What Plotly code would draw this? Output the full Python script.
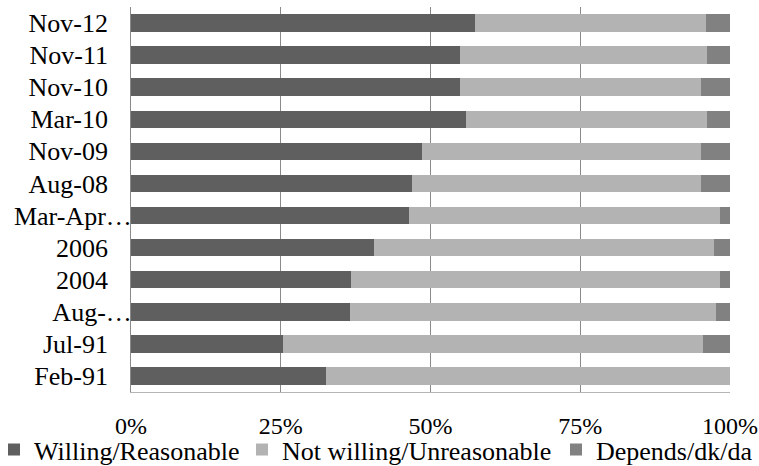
import plotly.graph_objects as go

# Survey waves, listed top to bottom
periods = ["Nov-12", "Nov-11", "Nov-10", "Mar-10", "Nov-09", "Aug-08",
           "Mar-Apr…", "2006", "2004", "Aug-…", "Jul-91", "Feb-91"]

# Share of responses (%)
willing = [57.5, 55.0, 55.0, 55.9, 48.5, 46.9, 46.4, 40.6, 36.7, 36.5, 25.3, 32.5]
not_willing = [38.5, 41.1, 40.1, 40.2, 46.7, 48.3, 51.9, 56.7, 61.6, 61.2, 70.2, 67.5]
depends = [4.0, 3.9, 4.9, 3.9, 4.8, 4.8, 1.7, 2.7, 1.7, 2.3, 4.5, 0.0]

x_ticks = [0, 25, 50, 75, 100]
x_tick_labels = ["0%", "25%", "50%", "75%", "100%"]

# name, values, colour, legend id, legend left edge (px from figure left)
series = [
    ("Willing/Reasonable", willing, "#5f5f5f", "legend", -6),
    ("Not willing/Unreasonable", not_willing, "#b3b3b3", "legend2", 242),
    ("Depends/dk/da", depends, "#818181", "legend3", 556),
]

FAMILY = "Liberation Serif"
font = dict(family=FAMILY, size=26, color="#000000")
x_font = dict(family=FAMILY, size=24, color="#000000")

W, H = 759, 466
M_L, M_R, M_T, M_B = 131, 29, 7, 74
PLOT_W = W - M_L - M_R

# Shortened (ellipsised) labels run right up to the axis; full labels keep a gap.
y_tick_text = [p if p.endswith("…") else p + "\u2004\u2004\u2005" for p in periods]

fig = go.Figure()
for name, vals, color, leg, _ in series:
    fig.add_trace(go.Bar(
        y=periods, x=vals, name=name, orientation="h",
        marker=dict(color=color, line=dict(width=0)),
        legend=leg,
    ))

legend_style = dict(
    orientation="h", xanchor="left", y=-0.0886, yanchor="top",
    font=font, itemwidth=30, bgcolor="rgba(0,0,0,0)",
)
legends = {
    leg: dict(legend_style, x=(left - M_L) / PLOT_W)
    for _, _, _, leg, left in series
}

fig.update_layout(
    barmode="stack",
    barnorm="percent",
    bargap=0.455,
    width=W, height=H,
    margin=dict(l=M_L, r=M_R, t=M_T, b=M_B, autoexpand=False),
    paper_bgcolor="white", plot_bgcolor="white",
    font=font,
    showlegend=True,
    **legends,
    xaxis=dict(
        range=[0, 100], tickmode="array", tickvals=x_ticks,
        ticktext=x_tick_labels,
        showgrid=True, gridcolor="#8a8a8a", gridwidth=1,
        showline=True, linecolor="#b5b5b5", linewidth=1,
        zeroline=False, ticks="", ticklabelstandoff=12,
        ticklabeloverflow="allow",
        automargin=False, tickfont=x_font,
    ),
    yaxis=dict(
        autorange="reversed", tickmode="array", tickvals=periods,
        ticktext=y_tick_text,
        showline=True, linecolor="#8a8a8a", linewidth=1,
        showgrid=False, ticks="", ticklabelstandoff=-7,
        automargin=False, tickfont=font,
    ),
)

fig.write_html("out.html")
